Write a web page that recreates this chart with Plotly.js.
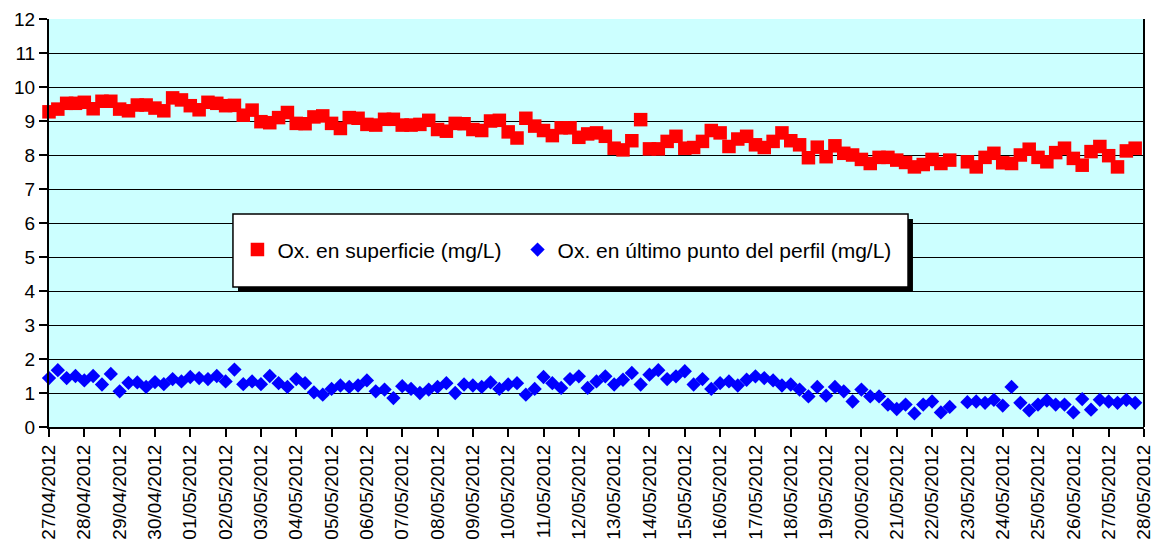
<!DOCTYPE html>
<html>
<head>
<meta charset="utf-8">
<script src="https://cdn.plot.ly/plotly-3.0.1.min.js"></script>
<style>html,body{margin:0;padding:0;background:#fff;}#chart{width:1154px;height:549px;}</style>
</head>
<body>
<div id="chart"></div>
<script>
// Sampling: every 6 hours starting 27/04/2012 00:00
const startDate = "2012-04-27T00:00:00";
const stepHours = 6;

const seriesNames = ["Ox. en superficie (mg/L)", "Ox. en último punto del perfil (mg/L)"];

const oxSuperficie = [
  9.27, 9.35, 9.52, 9.52, 9.55, 9.36, 9.58, 9.58, 9.35, 9.30,
  9.47, 9.47, 9.38, 9.30, 9.68, 9.62, 9.45, 9.33, 9.55, 9.52,
  9.45, 9.46, 9.17, 9.32, 8.98, 8.95, 9.10, 9.25, 8.93, 8.92,
  9.12, 9.15, 8.93, 8.78, 9.10, 9.08, 8.90, 8.88, 9.05, 9.05,
  8.88, 8.88, 8.90, 9.02, 8.75, 8.70, 8.93, 8.92, 8.75, 8.72,
  9.00, 9.02, 8.68, 8.50, 9.08, 8.85, 8.72, 8.57, 8.80, 8.80,
  8.52, 8.62, 8.65, 8.55, 8.20, 8.15, 8.42, 9.04, 8.18, 8.18,
  8.40, 8.55, 8.20, 8.22, 8.40, 8.72, 8.65, 8.25, 8.47, 8.55,
  8.30, 8.22, 8.40, 8.65, 8.42, 8.30, 7.92, 8.23, 7.95, 8.27,
  8.05, 8.00, 7.87, 7.75, 7.93, 7.93, 7.85, 7.78, 7.65, 7.72,
  7.87, 7.75, 7.85, null, 7.80, 7.65, 7.93, 8.05, 7.77, 7.75,
  8.00, 8.17, 7.93, 7.80, 8.07, 8.20, 7.90, 7.70, 8.10, 8.25,
  7.98, 7.65, 8.12, 8.20
];

const oxUltimoPunto = [
  1.44, 1.67, 1.44, 1.50, 1.37, 1.50, 1.25, 1.56, 1.05, 1.30,
  1.31, 1.18, 1.32, 1.26, 1.41, 1.34, 1.47, 1.44, 1.41, 1.50,
  1.34, 1.69, 1.26, 1.34, 1.26, 1.50, 1.29, 1.18, 1.41, 1.29,
  1.02, 0.95, 1.12, 1.22, 1.18, 1.22, 1.37, 1.05, 1.10, 0.85,
  1.20, 1.12, 1.00, 1.10, 1.18, 1.29, 1.00, 1.25, 1.22, 1.18,
  1.31, 1.12, 1.25, 1.29, 0.95, 1.12, 1.47, 1.29, 1.15, 1.41,
  1.49, 1.15, 1.34, 1.49, 1.25, 1.39, 1.59, 1.25, 1.54, 1.67,
  1.41, 1.49, 1.64, 1.25, 1.41, 1.12, 1.29, 1.34, 1.22, 1.39,
  1.49, 1.44, 1.37, 1.22, 1.25, 1.10, 0.90, 1.18, 0.92, 1.18,
  1.05, 0.75, 1.10, 0.90, 0.90, 0.66, 0.53, 0.66, 0.40, 0.66,
  0.75, 0.43, 0.59, null, 0.73, 0.75, 0.71, 0.80, 0.63, 1.18,
  0.71, 0.49, 0.66, 0.78, 0.66, 0.66, 0.43, 0.82, 0.51, 0.80,
  0.75, 0.71, 0.80, 0.71
];

const yTickVals = [0,1,2,3,4,5,6,7,8,9,10,11,12];
const xRange = ["2012-04-27 00:00:00", "2012-05-28 00:00:01"];

function sampleTimes(n) {
  const t0 = new Date(startDate + "Z").getTime();
  const out = [];
  for (let i = 0; i < n; i++) {
    const d = new Date(t0 + i * stepHours * 3600000);
    out.push(d.toISOString().slice(0, 19).replace("T", " "));
  }
  return out;
}

const xs = sampleTimes(oxSuperficie.length);
const font = "Arial, 'Liberation Sans', sans-serif";

const traces = [
  {
    x: xs, y: oxSuperficie, name: seriesNames[0], type: "scatter", mode: "markers",
    marker: {symbol: "square", size: 13.5, color: "#FF0000"},
    cliponaxis: false, legend: "legend"
  },
  {
    x: xs, y: oxUltimoPunto, name: seriesNames[1], type: "scatter", mode: "markers",
    marker: {symbol: "diamond", size: 11, color: "#0000FF"},
    cliponaxis: false, legend: "legend2"
  }
];

const legendCommon = {
  orientation: "h", xanchor: "left", yanchor: "middle",
  bgcolor: "rgba(0,0,0,0)", borderwidth: 0,
  font: {family: font, size: 21, color: "#000"},
  itemclick: false, itemdoubleclick: false
};

const layout = {
  width: 1154, height: 549,
  margin: {l: 49, r: 10, t: 19, b: 122},
  paper_bgcolor: "#FFFFFF",
  plot_bgcolor: "#CCFFFF",
  font: {family: font, size: 19, color: "#000"},
  showlegend: true,
  legend: Object.assign({}, legendCommon, {x: 0.1721, y: 0.434}),
  legend2: Object.assign({}, legendCommon, {x: 0.4279, y: 0.434}),
  xaxis: {
    type: "date",
    range: xRange,
    tick0: "2012-04-27",
    dtick: 86400000,
    tickformat: "%d/%m/%Y",
    tickangle: -90,
    ticklabeloverflow: "allow",
    ticks: "outside", ticklen: 8, tickwidth: 2, tickcolor: "#000",
    showline: true, linecolor: "#000", linewidth: 2,
    showgrid: false, zeroline: false,
    tickfont: {family: font, size: 19, color: "#000"}
  },
  yaxis: {
    range: [0, 12],
    tickvals: yTickVals,
    ticks: "outside", ticklen: 8, tickwidth: 2, tickcolor: "#000",
    showline: true, linecolor: "#000", linewidth: 2,
    showgrid: true, gridcolor: "#000", gridwidth: 1,
    zeroline: false,
    tickfont: {family: font, size: 19, color: "#000"}
  },
  shapes: [
    {type: "line", xref: "paper", yref: "paper", x0: 1, x1: 1, y0: 0, y1: 1,
     line: {color: "#000", width: 2}, layer: "above"},
    {type: "rect", xref: "paper", yref: "paper", x0: 0.1726, x1: 0.789, y0: 0.3309, y1: 0.5098,
     fillcolor: "#000", line: {width: 0}, layer: "above"},
    {type: "rect", xref: "paper", yref: "paper", x0: 0.168, x1: 0.7845, y0: 0.343, y1: 0.522,
     fillcolor: "#FFFFFF", line: {color: "#000", width: 1.5}, layer: "above"}
  ]
};

Plotly.newPlot("chart", traces, layout, {displayModeBar: false, staticPlot: true});
</script>
</body>
</html>
